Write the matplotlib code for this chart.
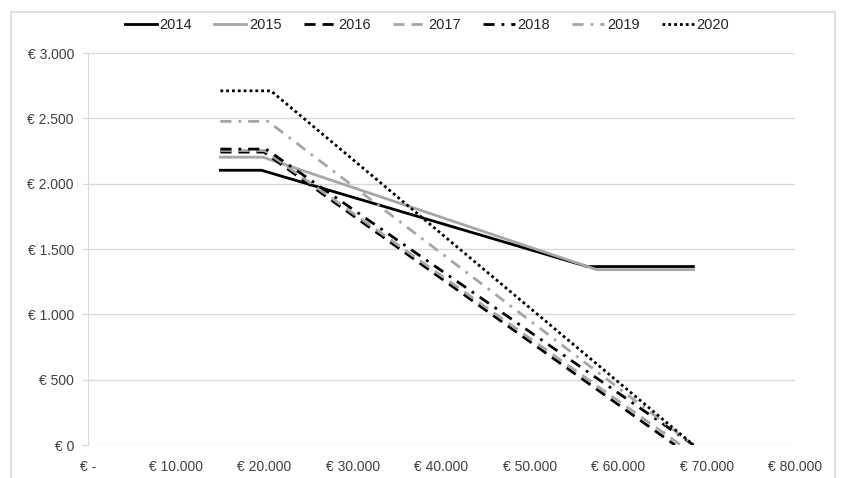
import matplotlib
matplotlib.use('Agg')
import matplotlib.pyplot as plt
from matplotlib.patches import Rectangle
from matplotlib.ticker import FuncFormatter

plt.rcParams['font.family'] = ['Liberation Sans', 'DejaVu Sans']

# ── data (income in €, credit in €) ──
years = ['2014', '2015', '2016', '2017', '2018', '2019', '2020']
x_2014 = [15000, 19645, 56495, 68507]
y_2014 = [2103, 2103, 1366, 1366]
x_2015 = [15000, 19822, 57585, 68507]
y_2015 = [2203, 2203, 1342, 1342]
x_2016 = [15000, 19922, 66417]
y_2016 = [2242, 2242, 0]
x_2017 = [15000, 19982, 67068]
y_2017 = [2254, 2254, 0]
x_2018 = [15000, 20142, 68507]
y_2018 = [2265, 2265, 0]
x_2019 = [15000, 20384, 68507]
y_2019 = [2477, 2477, 0]
x_2020 = [15000, 20711, 68507]
y_2020 = [2711, 2711, 0]

xs = [x_2014, x_2015, x_2016, x_2017, x_2018, x_2019, x_2020]
ys = [y_2014, y_2015, y_2016, y_2017, y_2018, y_2019, y_2020]
colors = ['black', '#a6a6a6', 'black', '#a6a6a6', 'black', '#a6a6a6', 'black']
styles = ['-', '-', (0, (4, 2.5)), (0, (4, 2.5)), (0, (4, 2.5, 1, 2.5)), (0, (4, 2.5, 1, 2.5)), (0, (1, 1.1))]

fig = plt.figure(figsize=(8.44, 4.78), dpi=100)
fig.patches.append(Rectangle((0.013, -0.01), 0.976, 0.985, transform=fig.transFigure,
                             fill=False, edgecolor='#d9d9d9', linewidth=1.2))
ax = fig.add_axes([0.104, 0.069, 0.838, 0.82])

for x, y, c, ls, lab in zip(xs, ys, colors, styles, years):
    ax.plot(x, y, color=c, linestyle=ls, linewidth=2.0, label=lab)

ax.set_xlim(0, 80000)
ax.set_ylim(0, 3000)
ax.set_xticks(range(0, 80001, 10000))
ax.set_yticks(range(0, 3001, 500))

def euro(v, _):
    v = int(round(v))
    if v == 0:
        return '€ -'
    return '€ ' + f'{v:,}'.replace(',', '.')

ax.xaxis.set_major_formatter(FuncFormatter(euro))
ax.yaxis.set_major_formatter(FuncFormatter(lambda v, _: '€ ' + f'{int(v):,}'.replace(',', '.')))
ax.grid(axis='y', color='#d9d9d9', linewidth=1)
ax.set_axisbelow(True)
for s in ['top', 'right', 'bottom']:
    ax.spines[s].set_visible(False)
ax.spines['left'].set_color('#d9d9d9')
ax.tick_params(axis='y', length=4, color='#d9d9d9', labelsize=10, labelcolor='#404040', pad=6)
ax.tick_params(axis='x', length=0, labelsize=10, labelcolor='#404040', pad=11)

fig.legend(loc='center', bbox_to_anchor=(0.506, 0.948), ncol=7, frameon=False,
           fontsize=10.5, handlelength=2.2, handletextpad=0.2, columnspacing=1.5,
           labelcolor='#262626')

plt.savefig('out.png', dpi=100)
plt.close()
